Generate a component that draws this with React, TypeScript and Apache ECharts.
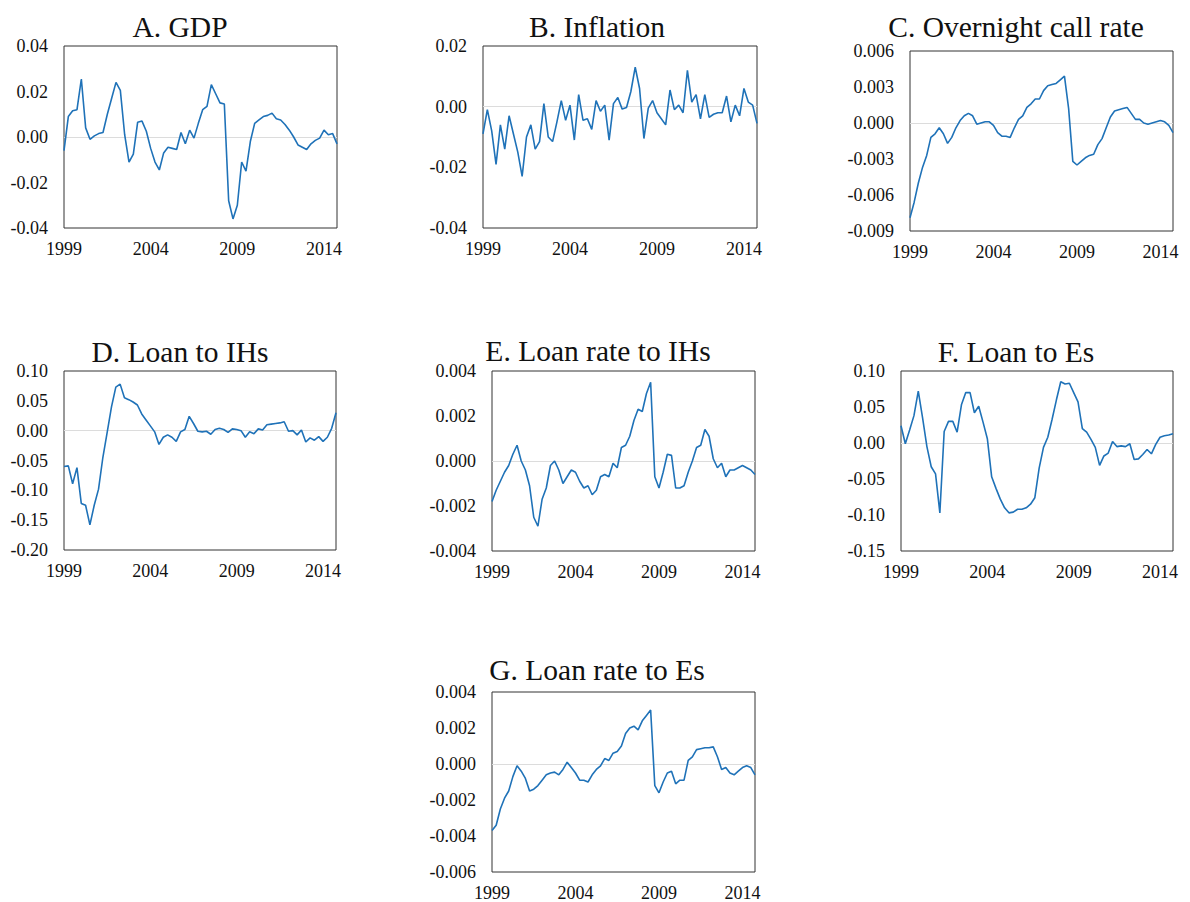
import React, { useEffect, useRef } from "react";
import * as echarts from "echarts";

// ---- Data (quarterly, 1999Q1 - 2014Q4) ----
const years = [1999, 2000, 2001, 2002, 2003, 2004, 2005, 2006, 2007, 2008, 2009, 2010, 2011, 2012, 2013, 2014];
const quarterNames = ["Q1", "Q2", "Q3", "Q4"];
const categories = years.flatMap((y) => quarterNames.map((q) => `${y}${q}`));
const tickYears = ["1999", "2004", "2009", "2014"];

const gdp = [-0.006, 0.009, 0.0115, 0.012, 0.0255, 0.004, -0.001, 0.0005, 0.0015, 0.002,
  0.010, 0.017, 0.024, 0.0205, 0.001, -0.011, -0.0075, 0.0065, 0.007, 0.0025,
  -0.005, -0.011, -0.0145, -0.007, -0.0045, -0.005, -0.0055, 0.002, -0.003, 0.003,
  -0.0005, 0.006, 0.012, 0.0135, 0.023, 0.019, 0.015, 0.0145, -0.028, -0.036,
  -0.030, -0.011, -0.015, -0.002, 0.006, 0.0075, 0.009, 0.0095, 0.0105, 0.008,
  0.0075, 0.0055, 0.003, 0.000, -0.0035, -0.0045, -0.0055, -0.003, -0.0015, -0.0005,
  0.003, 0.001, 0.0015, -0.003];

const inflation = [-0.009, -0.001, -0.008, -0.019, -0.006, -0.014, -0.003, -0.009, -0.015, -0.023,
  -0.010, -0.006, -0.014, -0.0115, 0.001, -0.010, -0.0115, -0.005, 0.002, -0.0045,
  0.0005, -0.011, 0.004, -0.0045, -0.004, -0.0075, 0.002, -0.0015, 0.0005, -0.011,
  0.001, 0.003, -0.0008, -0.0003, 0.005, 0.013, 0.006, -0.0105, -0.0005, 0.002,
  -0.002, -0.004, -0.006, 0.0055, -0.001, 0.0005, -0.002, 0.012, 0.0015, 0.004,
  -0.004, 0.004, -0.0035, -0.0025, -0.002, -0.002, 0.0035, -0.005, 0.0005, -0.003,
  0.006, 0.0015, 0.0005, -0.0055];

const callRate = [-0.0079, -0.0066, -0.0050, -0.0037, -0.0027, -0.0012, -0.0009, -0.0004, -0.0009, -0.0017,
  -0.0012, -0.0004, 0.0002, 0.0006, 0.0008, 0.0006, -0.0001, 0.0000, 0.0001, 0.0001,
  -0.0002, -0.0008, -0.0011, -0.0011, -0.0012, -0.0004, 0.0003, 0.0006, 0.0013, 0.0016,
  0.0020, 0.0020, 0.0027, 0.0031, 0.0032, 0.0033, 0.0036, 0.0039, 0.0012, -0.0032,
  -0.0035, -0.0032, -0.0029, -0.0027, -0.0026, -0.0018, -0.0013, -0.0004, 0.0005, 0.0010,
  0.0011, 0.0012, 0.0013, 0.0008, 0.0003, 0.0003, 0.0000, -0.0001, 0.0000, 0.0001,
  0.0002, 0.0001, -0.0002, -0.0008];

const loanIH = [-0.060, -0.059, -0.089, -0.062, -0.122, -0.125, -0.158, -0.125, -0.098, -0.045,
  -0.003, 0.040, 0.073, 0.078, 0.055, 0.052, 0.048, 0.043, 0.028, 0.018,
  0.008, -0.002, -0.023, -0.011, -0.007, -0.011, -0.018, -0.002, 0.002, 0.024,
  0.012, -0.001, -0.002, -0.001, -0.006, 0.002, 0.004, 0.002, -0.003, 0.003,
  0.002, 0.000, -0.011, -0.002, -0.005, 0.003, 0.001, 0.010, 0.011, 0.012,
  0.013, 0.015, -0.001, 0.000, -0.007, 0.001, -0.019, -0.012, -0.016, -0.010,
  -0.018, -0.011, 0.004, 0.030];

const loanRateIH = [-0.0018, -0.0013, -0.0009, -0.0005, -0.0002, 0.0003, 0.0007, 0.0000, -0.0004, -0.0011,
  -0.0025, -0.0029, -0.0017, -0.0012, -0.0002, 0.0000, -0.0004, -0.0010, -0.0007, -0.0004,
  -0.0005, -0.0009, -0.0012, -0.0011, -0.0015, -0.0013, -0.0007, -0.0006, -0.0007, -0.0001,
  -0.0003, 0.0006, 0.0007, 0.0011, 0.0018, 0.0023, 0.0022, 0.0030, 0.0035, -0.0007,
  -0.0012, -0.0005, 0.0003, 0.00025, -0.0012, -0.0012, -0.0011, -0.0005, 0.0000, 0.0006,
  0.0007, 0.0014, 0.0011, 0.0001, -0.0003, -0.0001, -0.0007, -0.0004, -0.0004, -0.0003,
  -0.0002, -0.0003, -0.0004, -0.0006];

const loanE = [0.024, -0.001, 0.018, 0.038, 0.072, 0.035, -0.005, -0.033, -0.043, -0.097,
  0.016, 0.030, 0.030, 0.015, 0.053, 0.070, 0.070, 0.042, 0.051, 0.029,
  0.006, -0.047, -0.063, -0.078, -0.090, -0.097, -0.096, -0.092, -0.092, -0.090,
  -0.085, -0.076, -0.035, -0.006, 0.008, 0.033, 0.060, 0.085, 0.082, 0.083,
  0.070, 0.057, 0.020, 0.015, 0.005, -0.006, -0.031, -0.018, -0.014, 0.002,
  -0.005, -0.004, -0.005, -0.001, -0.023, -0.022, -0.016, -0.009, -0.015, -0.002,
  0.008, 0.010, 0.011, 0.013];

const loanRateE = [-0.0037, -0.0034, -0.0025, -0.0019, -0.0015, -0.0007, -0.0001, -0.0004, -0.0008, -0.0015,
  -0.0014, -0.0012, -0.0009, -0.0006, -0.0005, -0.00045, -0.0006, -0.0003, 0.0001, -0.0002,
  -0.0005, -0.0009, -0.0009, -0.0010, -0.0006, -0.0003, -0.0001, 0.0003, 0.0002, 0.0006,
  0.0007, 0.0010, 0.0017, 0.0020, 0.0021, 0.0019, 0.0024, 0.0027, 0.0030, -0.0012,
  -0.0016, -0.0010, -0.0005, -0.0004, -0.0011, -0.0009, -0.0009, 0.0002, 0.0004, 0.0008,
  0.00085, 0.0009, 0.0009, 0.00095, 0.0004, -0.0003, -0.0002, -0.0005, -0.0006, -0.0004,
  -0.0002, -0.0001, -0.0002, -0.0006];

const titles = ["A. GDP", "B. Inflation", "C. Overnight call rate", "D. Loan to IHs", "E. Loan rate to IHs", "F. Loan to Es", "G. Loan rate to Es"];
const seriesList = [gdp, inflation, callRate, loanIH, loanRateIH, loanE, loanRateE];
const yMins = [-0.04, -0.04, -0.009, -0.2, -0.004, -0.15, -0.006];
const yMaxs = [0.04, 0.02, 0.006, 0.1, 0.004, 0.1, 0.004];
const yIntervals = [0.02, 0.02, 0.003, 0.05, 0.002, 0.05, 0.002];
const yDecimals = [2, 2, 3, 2, 3, 2, 3];

// ---- Layout (pixels) ----
const gridBoxes = [
  { left: 64, top: 46, width: 273, height: 182 },
  { left: 483, top: 46, width: 274, height: 182 },
  { left: 910, top: 51, width: 263, height: 180 },
  { left: 64, top: 371, width: 272, height: 179 },
  { left: 492, top: 371, width: 263, height: 180 },
  { left: 901, top: 371, width: 272, height: 180 },
  { left: 492, top: 692, width: 263, height: 180 },
];
const titlePos = [
  [180, 27], [597, 27], [1016, 27],
  [180, 352], [598, 351], [1016, 352],
  [597, 670],
];

const FONT = "Liberation Serif";
const LINE_COLOR = "#1f72b8";

export default function App() {
  const ref = useRef<HTMLDivElement>(null);

  useEffect(() => {
    if (!ref.current) return;
    const chart = echarts.init(ref.current, undefined, { renderer: "svg" });

    const grid = gridBoxes.map((g) => ({
      left: g.left,
      top: g.top,
      width: g.width,
      height: g.height,
      show: true,
      borderColor: "#333333",
      borderWidth: 1,
      backgroundColor: "transparent",
      containLabel: false,
    }));

    const xAxis = gridBoxes.map((_, i) => ({
      type: "category",
      gridIndex: i,
      data: categories,
      boundaryGap: false,
      axisLine: { show: false },
      axisTick: { show: false },
      splitLine: { show: false },
      axisLabel: {
        interval: (idx: number, val: string) => tickYears.includes(val.slice(0, 4)) && val.endsWith("Q1"),
        formatter: (val: string) => val.slice(0, 4),
        fontFamily: FONT,
        fontSize: 18,
        color: "#111",
        margin: 12,
      },
    }));

    const yAxis = gridBoxes.map((_, i) => ({
      type: "value",
      gridIndex: i,
      min: yMins[i],
      max: yMaxs[i],
      interval: yIntervals[i],
      axisLine: { show: false },
      axisTick: { show: false },
      splitLine: { show: false },
      axisLabel: {
        formatter: (v: number) => (Math.abs(v) < 1e-12 ? 0 : v).toFixed(yDecimals[i]),
        fontFamily: FONT,
        fontSize: 18,
        color: "#111",
        margin: 16,
      },
    }));

    const series = seriesList.map((d, i) => ({
      type: "line",
      xAxisIndex: i,
      yAxisIndex: i,
      data: d,
      showSymbol: false,
      symbol: "none",
      lineStyle: { color: LINE_COLOR, width: 1.6 },
      z: 3,
      markLine: {
        silent: true,
        symbol: "none",
        label: { show: false },
        lineStyle: { color: "#dcdcdc", width: 1, type: "solid" },
        data: [{ yAxis: 0 }],
        z: 1,
      },
    }));

    const graphic = titles.map((t, i) => ({
      type: "text",
      x: titlePos[i][0],
      y: titlePos[i][1],
      style: {
        text: t,
        fontFamily: FONT,
        fontSize: 29.5,
        fill: "#111",
        textAlign: "center",
        textVerticalAlign: "middle",
      },
    }));

    chart.setOption({
      animation: false,
      backgroundColor: "#ffffff",
      textStyle: { fontFamily: FONT },
      grid,
      xAxis,
      yAxis,
      series,
      graphic,
    });

    return () => chart.dispose();
  }, []);

  return (
    <div
      ref={ref}
      style={{ position: "absolute", left: 0, top: 0, width: 1190, height: 902, background: "#fff" }}
    />
  );
}
